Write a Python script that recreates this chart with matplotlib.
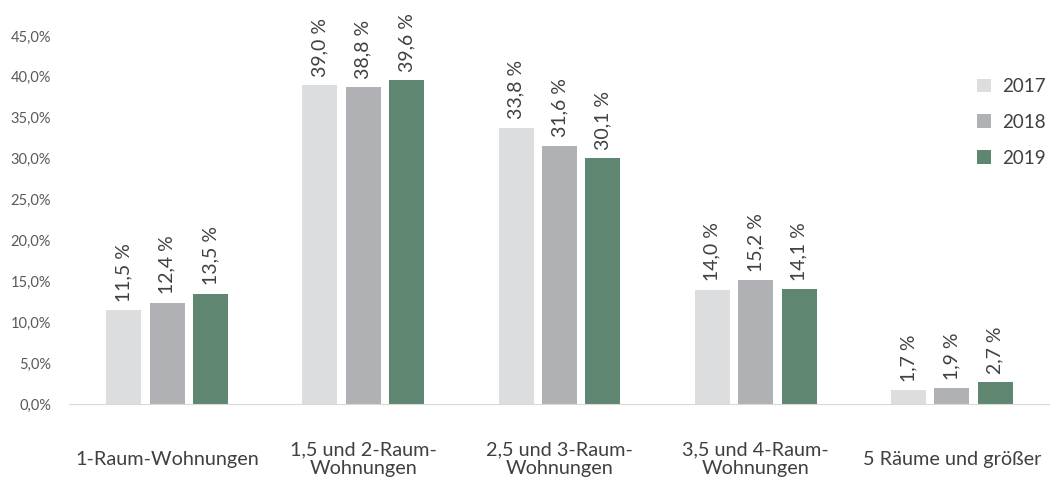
import matplotlib
matplotlib.use('Agg')
import matplotlib.pyplot as plt
import numpy as np
from matplotlib.ticker import FuncFormatter

# Anteile nach Wohnungsgröße
kategorien = ['1-Raum-Wohnungen', '1,5 und 2-Raum-\nWohnungen', '2,5 und 3-Raum-\nWohnungen',
              '3,5 und 4-Raum-\nWohnungen', '5 Räume und größer']
jahre = ['2017', '2018', '2019']
werte_2017 = [11.5, 39.0, 33.8, 14.0, 1.7]
werte_2018 = [12.4, 38.8, 31.6, 15.2, 1.9]
werte_2019 = [13.5, 39.6, 30.1, 14.1, 2.7]
farben = ['#dcdddf', '#b0b1b5', '#5f8670']

plt.rcParams['font.family'] = ['Lato', 'DejaVu Sans']

fig = plt.figure(figsize=(10.5, 4.79), dpi=100)
ax = fig.add_axes([69 / 1050, 75 / 479, 981 / 1050, 368 / 479])

x = np.arange(len(kategorien))
breite = 0.178
schritt = 0.221

for i, (werte, jahr) in enumerate(zip([werte_2017, werte_2018, werte_2019], jahre)):
    pos = x + (i - 1) * schritt
    bars = ax.bar(pos, werte, breite, color=farben[i], label=jahr, zorder=2)
    for b, v in zip(bars, werte):
        ax.text(b.get_x() + b.get_width() / 2, v + 1.0, f'{v:.1f} %'.replace('.', ','),
                rotation=90, ha='center', va='bottom', fontsize=14, color='#404040',
                clip_on=False)

ax.set_xlim(-0.5, len(kategorien) - 0.5)
ax.set_ylim(0, 45)
ax.set_yticks(np.arange(0, 46, 5))
ax.yaxis.set_major_formatter(FuncFormatter(lambda v, p: f'{v:.1f}%'.replace('.', ',')))
ax.tick_params(axis='y', length=0, labelsize=10.5, labelcolor='#595959', pad=13)

ax.set_xticks(x)
ax.set_xticklabels(kategorien, fontsize=14.3, color='#404040', va='center', linespacing=1.1)
ax.tick_params(axis='x', length=0, pad=40)

for s in ['top', 'right', 'left']:
    ax.spines[s].set_visible(False)
ax.spines['bottom'].set_color('#d9d9d9')

leg = ax.legend(loc='upper left', bbox_to_anchor=(977 / 1050, 1 - 78 / 479),
                bbox_transform=fig.transFigure, borderaxespad=0, borderpad=0,
                frameon=False, fontsize=13.5, handlelength=0.75, handleheight=0.75,
                labelspacing=1.0, handletextpad=0.6)
for t in leg.get_texts():
    t.set_color('#404040')

fig.savefig('out.png', dpi=100)
